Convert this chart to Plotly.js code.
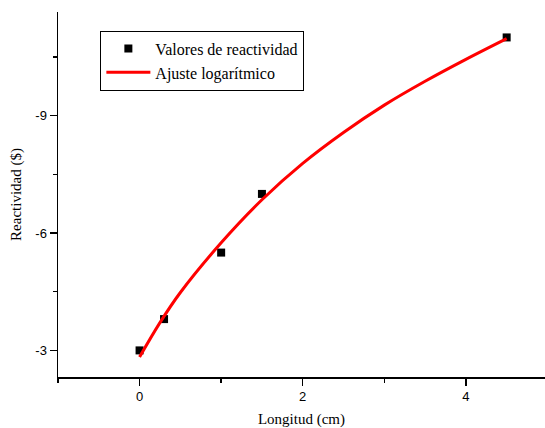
<!DOCTYPE html>
<html>
<head>
<meta charset="utf-8">
<script src="https://cdn.plot.ly/plotly-3.0.1.min.js"></script>
<style>html,body{margin:0;padding:0;background:#fff;}#chart{width:545px;height:428px;}</style>
</head>
<body>
<div id="chart"></div>
<script>
// Measured reactivity values
const longitud = [0, 0.3, 1, 1.5, 4.5];
const reactividad = [-3.0, -3.8, -5.5, -7.0, -11.0];
// Logarithmic fit curve
const ajusteX = [0, 0.25, 0.5, 1, 1.5, 2, 2.5, 3, 3.5, 4, 4.5];
const ajusteY = [-2.83, -3.71, -4.48, -5.75, -6.85, -7.78, -8.57, -9.27, -9.88, -10.44, -10.97];
const xTicks = [0, 2, 4];
const yTicks = [-3, -6, -9];

const traces = [
  {
    x: longitud, y: reactividad, type: 'scatter', mode: 'markers',
    name: 'Valores de reactividad',
    marker: {symbol: 'square', size: 8, color: '#000000'}
  },
  {
    x: ajusteX, y: ajusteY, type: 'scatter', mode: 'lines',
    name: 'Ajuste logarítmico',
    line: {color: '#ff0000', width: 3, shape: 'spline', smoothing: 1}
  }
];

const layout = {
  width: 545, height: 428,
  margin: {l: 57.5, r: 0, t: 12, b: 50.5},
  paper_bgcolor: '#ffffff', plot_bgcolor: '#ffffff',
  showlegend: true,
  legend: {
    x: 0.087, y: 0.949, xanchor: 'left', yanchor: 'top',
    bordercolor: '#000000', borderwidth: 1, bgcolor: '#ffffff',
    font: {family: 'Liberation Serif, Times New Roman, serif', size: 16, color: '#000'},
    itemwidth: 44, tracegroupgap: 0
  },
  xaxis: {
    range: [-1, 4.97], tickvals: xTicks, ticktext: xTicks.map(String),
    showgrid: false, zeroline: false, showline: true, linecolor: '#000', linewidth: 1.5,
    ticks: 'outside', ticklen: 7, tickwidth: 1.5, tickcolor: '#000',
    minor: {dtick: 1, ticks: 'outside', ticklen: 4, tickwidth: 1.5, tickcolor: '#000', showgrid: false},
    tickfont: {family: 'Liberation Sans, Arial, sans-serif', size: 13, color: '#000'},
    title: {text: 'Longitud (cm)', font: {family: 'Liberation Serif, Times New Roman, serif', size: 15, color: '#000'}, standoff: 11}
  },
  yaxis: {
    range: [-2.32, -11.65], tickvals: yTicks, ticktext: yTicks.map(String),
    showgrid: false, zeroline: false, showline: true, linecolor: '#000', linewidth: 1.5,
    ticks: 'outside', ticklen: 7, tickwidth: 1.5, tickcolor: '#000',
    minor: {dtick: 1.5, tick0: -3, ticks: 'outside', ticklen: 4, tickwidth: 1.5, tickcolor: '#000', showgrid: false},
    tickfont: {family: 'Liberation Sans, Arial, sans-serif', size: 13, color: '#000'},
    title: {text: 'Reactividad ($)', font: {family: 'Liberation Serif, Times New Roman, serif', size: 15, color: '#000'}, standoff: 10}
  }
};

Plotly.newPlot('chart', traces, layout, {displayModeBar: false, staticPlot: true});
</script>
</body>
</html>
